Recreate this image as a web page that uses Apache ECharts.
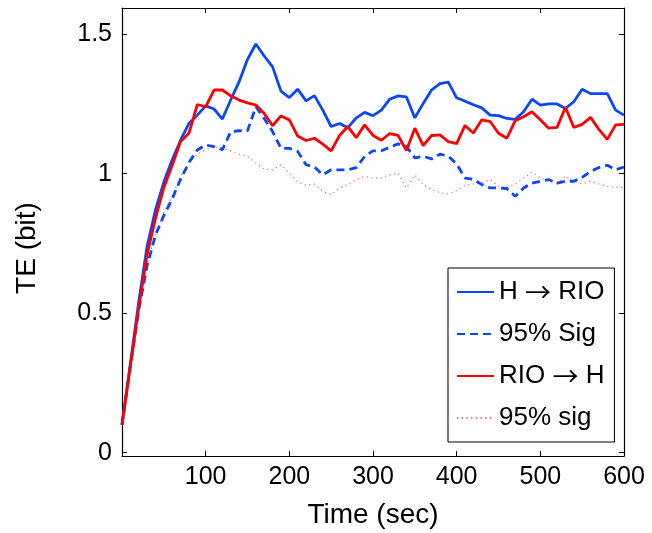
<!DOCTYPE html>
<html>
<head>
<meta charset="utf-8">
<script src="https://cdn.jsdelivr.net/npm/echarts@6/dist/echarts.min.js"></script>
<style>
html,body{margin:0;padding:0;background:#fff;}
#c{width:652px;height:533px;}
</style>
</head>
<body>
<div id="c"></div>
<script>
const times = [0,10,20,30,40,50,60,70,80,90,100,110,120,130,140,150,160,170,180,190,200,210,220,230,240,250,260,270,280,290,300,310,320,330,340,350,360,370,380,390,400,410,420,430,440,450,460,470,480,490,500,510,520,530,540,550,560,570,580,590,600];

const hToRio = [0.10,0.32,0.54,0.74,0.87,0.97,1.05,1.12,1.18,1.21,1.243,1.232,1.196,1.265,1.33,1.41,1.465,1.422,1.383,1.296,1.273,1.303,1.261,1.28,1.228,1.169,1.18,1.165,1.20,1.22,1.208,1.228,1.267,1.279,1.275,1.20,1.252,1.30,1.323,1.328,1.272,1.26,1.247,1.236,1.21,1.208,1.198,1.195,1.222,1.267,1.246,1.25,1.25,1.234,1.258,1.303,1.287,1.287,1.287,1.228,1.21];

const hToRioSig = [0.10,0.31,0.51,0.67,0.78,0.85,0.91,0.98,1.04,1.085,1.103,1.097,1.086,1.151,1.154,1.154,1.24,1.198,1.151,1.091,1.091,1.08,1.032,1.024,0.996,1.014,1.014,1.014,1.022,1.062,1.082,1.082,1.095,1.107,1.097,1.057,1.062,1.053,1.07,1.063,1.035,0.984,0.98,0.961,0.949,0.949,0.947,0.919,0.949,0.966,0.973,0.979,0.966,0.973,0.973,0.987,1.008,1.022,1.03,1.014,1.024];

const rioToH = [0.10,0.31,0.52,0.71,0.84,0.95,1.03,1.115,1.145,1.248,1.24,1.30,1.30,1.279,1.264,1.254,1.246,1.216,1.172,1.207,1.193,1.135,1.119,1.127,1.106,1.082,1.137,1.169,1.129,1.175,1.137,1.12,1.144,1.137,1.083,1.163,1.101,1.137,1.139,1.115,1.108,1.173,1.146,1.193,1.187,1.145,1.127,1.19,1.204,1.222,1.193,1.163,1.166,1.238,1.166,1.177,1.202,1.159,1.123,1.175,1.177];

const rioToHSig = [0.10,0.32,0.53,0.68,0.78,0.86,0.92,0.99,1.04,1.07,1.085,1.097,1.091,1.082,1.07,1.062,1.038,1.016,1.014,1.032,1.002,0.97,0.958,0.963,0.937,0.925,0.949,0.961,0.979,0.99,0.984,0.985,0.996,1.002,0.949,0.996,0.961,0.943,0.932,0.927,0.94,0.958,0.963,0.966,0.979,0.955,0.949,0.963,0.984,1.006,0.984,0.975,0.966,0.99,0.973,0.963,0.973,0.963,0.955,0.951,0.951];

const seriesNames = ['H \u2192 RIO','95% Sig','RIO \u2192 H','95% sig'];
const xTicks = [100,200,300,400,500,600];
const yTicks = [0,0.5,1,1.5];
const xTitle = 'Time (sec)';
const yTitle = 'TE (bit)';

const FONT = '"Liberation Sans", Arial, Helvetica, sans-serif';
const BLUE = '#0a46ff';
const RED = '#ff0000';
const LRED = '#ff6a6a';

function pairs(arr){ return times.map((t,i)=>[t,arr[i]]); }

const chart = echarts.init(document.getElementById('c'), null, {renderer:'canvas'});
const axisLineStyle = {color:'#000', width:1.2};
chart.setOption({
  animation:false,
  backgroundColor:'#fff',
  grid:{left:122, right:28, top:8, bottom:77, containLabel:false},
  xAxis:[{
    type:'value', min:0, max:600, interval:100, position:'bottom',
    axisLine:{show:true, onZero:false, lineStyle:axisLineStyle},
    axisTick:{show:true, inside:true, length:5, lineStyle:{color:'#000'}, customValues:xTicks},
    axisLabel:{show:true, customValues:xTicks, color:'#000', fontFamily:FONT, fontSize:25, margin:9},
    splitLine:{show:false}
  },{
    type:'value', min:0, max:600, interval:100, position:'top',
    axisLine:{show:true, onZero:false, lineStyle:axisLineStyle},
    axisTick:{show:true, inside:true, length:5, lineStyle:{color:'#000'}, customValues:xTicks},
    axisLabel:{show:false}, splitLine:{show:false}
  }],
  yAxis:[{
    type:'value', min:-0.012, max:1.594, position:'left',
    axisLine:{show:true, onZero:false, lineStyle:axisLineStyle},
    axisTick:{show:true, inside:true, length:5, lineStyle:{color:'#000'}, customValues:yTicks},
    axisLabel:{show:true, customValues:yTicks, color:'#000', fontFamily:FONT, fontSize:25, margin:10},
    splitLine:{show:false}
  },{
    type:'value', min:-0.012, max:1.594, position:'right',
    axisLine:{show:true, onZero:false, lineStyle:axisLineStyle},
    axisTick:{show:true, inside:true, length:5, lineStyle:{color:'#000'}, customValues:yTicks},
    axisLabel:{show:false}, splitLine:{show:false}
  }],
  legend:{
    orient:'vertical', left:448, top:268,
    backgroundColor:'#fff', borderColor:'#000', borderWidth:1,
    padding:[9,10,9,8],
    itemWidth:37, itemHeight:30, itemGap:12,
    itemStyle:{opacity:0},
    textStyle:{fontFamily:FONT, fontSize:26, color:'#000', lineHeight:30,
      rich:{a:{fontFamily:'"Noto Sans CJK SC", "DejaVu Sans", sans-serif', fontSize:26, color:'#000', lineHeight:30}}},
    formatter:function(name){ return name.replace('\u2192','{a|\u2192}'); },
    data:seriesNames
  },
  graphic:[{
    type:'text', x:373, y:515,
    style:{text:xTitle, fontFamily:FONT, fontSize:28, fill:'#000', align:'center', verticalAlign:'middle'}
  },{
    type:'text', x:27, y:248, rotation:Math.PI/2,
    style:{text:yTitle, fontFamily:FONT, fontSize:28, fill:'#000', align:'center', verticalAlign:'middle'}
  }],
  series:[
    {name:seriesNames[0], type:'line', data:pairs(hToRio), showSymbol:false, symbol:'none', lineStyle:{color:BLUE, width:2.8}, itemStyle:{color:BLUE}, z:4},
    {name:seriesNames[1], type:'line', data:pairs(hToRioSig), showSymbol:false, symbol:'none', lineStyle:{color:BLUE, width:2.8, type:[8,5]}, itemStyle:{color:BLUE}, z:3},
    {name:seriesNames[2], type:'line', data:pairs(rioToH), showSymbol:false, symbol:'none', lineStyle:{color:RED, width:2.8}, itemStyle:{color:RED}, z:5},
    {name:seriesNames[3], type:'line', data:pairs(rioToHSig), showSymbol:false, symbol:'none', lineStyle:{color:LRED, width:1.2, type:[1.3,3.4]}, itemStyle:{color:LRED}, z:2}
  ]
});
</script>
</body>
</html>
